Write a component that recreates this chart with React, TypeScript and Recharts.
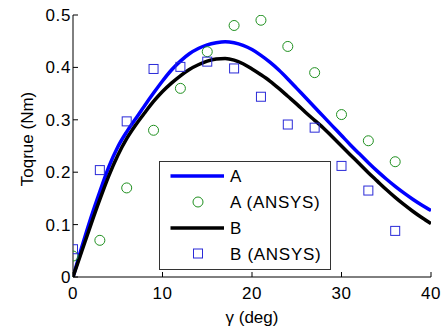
import React from 'react';
import { ComposedChart, Line, Scatter, XAxis, YAxis, Legend, Label } from 'recharts';

const gammaDeg = [0,1,2,3,4,5,6,7,8,9,10,11,12,13,14,15,16,17,18,19,20,21,22,23,24,25,26,27,28,29,30,31,32,33,34,35,36,37,38,39,40];
const torqueA = [0,0.058,0.113,0.163,0.21,0.248,0.277,0.302,0.327,0.351,0.374,0.395,0.412,0.426,0.436,0.443,0.447,0.449,0.447,0.442,0.434,0.423,0.41,0.395,0.378,0.36,0.342,0.324,0.306,0.288,0.27,0.252,0.235,0.218,0.202,0.187,0.173,0.16,0.148,0.137,0.127];
const torqueB = [0,0.05,0.1,0.148,0.193,0.232,0.264,0.29,0.313,0.335,0.354,0.37,0.384,0.396,0.405,0.412,0.416,0.417,0.414,0.407,0.397,0.386,0.374,0.36,0.345,0.33,0.314,0.299,0.284,0.267,0.25,0.233,0.216,0.199,0.183,0.167,0.152,0.138,0.125,0.113,0.102];

const ansysGamma = [0,3,6,9,12,15,18,21,24,27,30,33,36];
const ansysA = [0.04,0.07,0.17,0.28,0.36,0.43,0.48,0.49,0.44,0.39,0.31,0.26,0.22];
const ansysB = [0.053,0.204,0.297,0.397,0.401,0.411,0.398,0.344,0.291,0.285,0.212,0.165,0.088];

const xTicks = [0,10,20,30,40];
const yTicks = [0,0.1,0.2,0.3,0.4,0.5];

const seriesNames = ['A', 'A (ANSYS)', 'B', 'B (ANSYS)'];

const lineA = gammaDeg.map((x, i) => ({ x, y: torqueA[i] }));
const lineB = gammaDeg.map((x, i) => ({ x, y: torqueB[i] }));
const ptsA = ansysGamma.map((x, i) => ({ x, y: ansysA[i] }));
const ptsB = ansysGamma.map((x, i) => ({ x, y: ansysB[i] }));

const BLUE = '#0000ff';
const GREEN = '#1f901f';
const SQ = '#2a2ad8';
const FONT = '"Liberation Sans", Arial, sans-serif';

const Circle = (p: any) => (
  <circle cx={p.cx} cy={p.cy} r={5} fill="none" stroke={GREEN} strokeWidth={1} />
);
const Square = (p: any) => (
  <rect x={p.cx - 4.5} y={p.cy - 4.5} width={9} height={9} fill="none" stroke={SQ} strokeWidth={1} />
);

const LegendBox = () => {
  const rows = [15, 41, 67, 92.5];
  return (
    <svg width={172} height={109} style={{ display: 'block' }}>
      <rect x={0.5} y={0.5} width={171} height={108} fill="#fff" stroke="#333" strokeWidth={1} />
      <line x1={11.5} x2={65} y1={rows[0]} y2={rows[0]} stroke={BLUE} strokeWidth={3.5} />
      <circle cx={39} cy={rows[1]} r={5} fill="none" stroke={GREEN} strokeWidth={1} />
      <line x1={11.5} x2={65} y1={rows[2]} y2={rows[2]} stroke="#000" strokeWidth={3.5} />
      <rect x={34.5} y={rows[3] - 4.5} width={9} height={9} fill="none" stroke={SQ} strokeWidth={1} />
      {seriesNames.map((n, i) => (
        <text key={n} x={71} y={rows[i]} dy="0.36em" fontSize={17} letterSpacing={0.7} fontFamily={FONT} fill="#000">{n}</text>
      ))}
    </svg>
  );
};

const tickStyle = { fontSize: 17, fill: '#000', fontFamily: FONT, letterSpacing: 0.6 };

export default function App() {
  return (
    <div style={{ position: 'absolute', left: 0, top: 0, width: 443, height: 332, background: '#fff' }}>
      <ComposedChart width={443} height={332} margin={{ top: 15, right: 12, bottom: 0, left: 0 }}>
        <XAxis xAxisId={0} dataKey="x" type="number" domain={[0, 40]} ticks={xTicks} allowDataOverflow
          height={55} stroke="#000" tickSize={-5} tickMargin={15} tick={tickStyle} interval={0}>
          <Label value="γ (deg)" position="center" dy={12} style={{ fontSize: 17, fill: '#000', fontFamily: FONT }} />
        </XAxis>
        <XAxis xAxisId="top" orientation="top" dataKey="x" type="number" domain={[0, 40]} ticks={xTicks}
          height={0} stroke="#000" tickSize={-5} tickFormatter={() => ''} interval={0} />
        <YAxis yAxisId={0} type="number" domain={[0, 0.5]} ticks={yTicks} allowDataOverflow
          width={73} stroke="#000" tickSize={-5} tickMargin={7} tick={tickStyle} interval={0}>
          <Label value="Toqrue (Nm)" angle={-90} position="center" dx={-10} dy={-7} style={{ fontSize: 17, fill: '#000', fontFamily: FONT, textAnchor: 'middle' }} />
        </YAxis>
        <YAxis yAxisId="right" orientation="right" type="number" domain={[0, 0.5]} ticks={yTicks}
          width={0} stroke="#000" tickSize={-5} tickFormatter={() => ''} interval={0} />
        <Line data={lineA} dataKey="y" type="monotone" stroke={BLUE} strokeWidth={3.5} dot={false} isAnimationActive={false} />
        <Scatter data={ptsA} dataKey="y" shape={Circle} isAnimationActive={false} />
        <Line data={lineB} dataKey="y" type="monotone" stroke="#000" strokeWidth={3.5} dot={false} isAnimationActive={false} />
        <Scatter data={ptsB} dataKey="y" shape={Square} isAnimationActive={false} />
        <Legend layout="vertical" verticalAlign="middle" align="center" content={() => <LegendBox />}
          wrapperStyle={{ left: 159, top: 161, width: 172, height: 109 }} />
      </ComposedChart>
    </div>
  );
}
